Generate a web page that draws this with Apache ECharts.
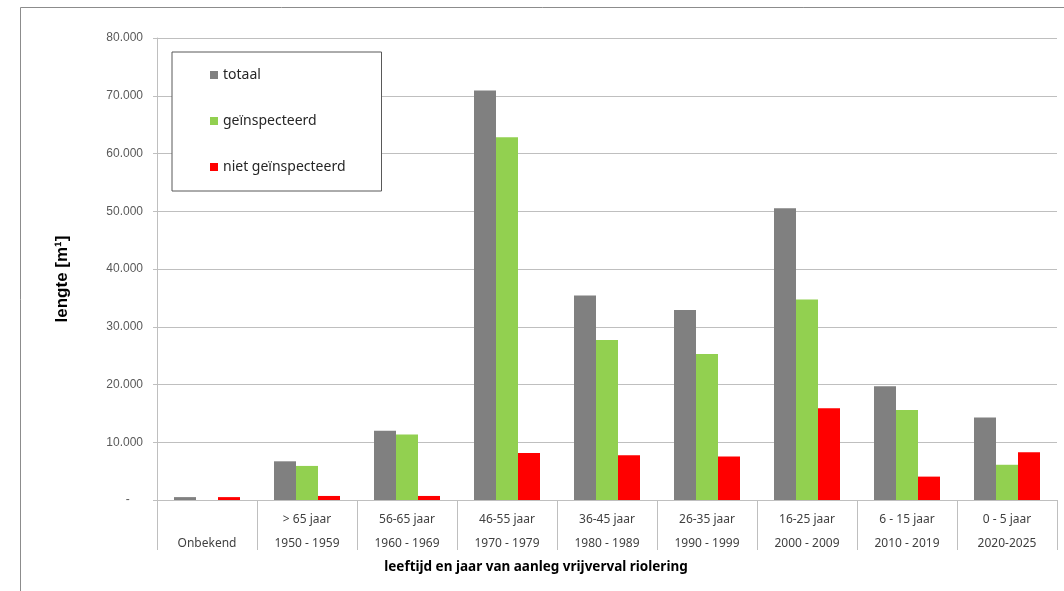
<!DOCTYPE html>
<html>
<head>
<meta charset="utf-8">
<script src="https://cdn.jsdelivr.net/npm/echarts@6/dist/echarts.min.js"></script>
<style>html,body{margin:0;padding:0;background:#fff}#c{width:1064px;height:591px}</style>
</head>
<body>
<div id="c"></div>
<script>
const ageLabels = ['', '> 65 jaar', '56-65 jaar', '46-55 jaar', '36-45 jaar', '26-35 jaar', '16-25 jaar', '6 - 15 jaar', '0 - 5 jaar'];
const yearLabels = ['Onbekend', '1950 - 1959', '1960 - 1969', '1970 - 1979', '1980 - 1989', '1990 - 1999', '2000 - 2009', '2010 - 2019', '2020-2025'];
const totaal = [500, 6700, 12000, 70900, 35400, 32900, 50500, 19700, 14300];
const geinspecteerd = [0, 5900, 11350, 62800, 27700, 25300, 34700, 15600, 6100];
const nietGeinspecteerd = [500, 700, 700, 8150, 7750, 7550, 15900, 4050, 8250];
const seriesNames = ['totaal', 'geïnspecteerd', 'niet geïnspecteerd'];
const yTicks = [0, 10000, 20000, 30000, 40000, 50000, 60000, 70000, 80000];

const categories = yearLabels.map((y, i) => ageLabels[i] + '\n' + y);
const fontUI = '"Noto Sans", sans-serif';

const chart = echarts.init(document.getElementById('c'));
chart.setOption({
  animation: false,
  backgroundColor: '#fff',
  grid: { left: 157, right: 7, top: 38, bottom: 91, containLabel: false },
  legend: {
    orient: 'vertical',
    left: 172, top: 52,
    padding: [16, 36, 17, 38],
    itemWidth: 8, itemHeight: 8, itemGap: 32,
    borderColor: '#595959', borderWidth: 1,
    backgroundColor: '#fff',
    icon: 'rect',
    textStyle: { fontFamily: fontUI, fontSize: 14, color: '#262626' },
    data: seriesNames
  },
  xAxis: {
    type: 'category',
    data: categories,
    axisLine: { lineStyle: { color: '#BFBFBF', width: 1 } },
    axisTick: { show: true, length: 50, alignWithLabel: false, lineStyle: { color: '#BFBFBF', width: 1 } },
    axisLabel: {
      interval: 0, margin: 8, lineHeight: 24,
      fontFamily: fontUI, fontSize: 12, color: '#404040'
    },
    splitLine: { show: false }
  },
  yAxis: {
    type: 'value',
    min: 0, max: 80000, interval: 10000,
    axisLine: { show: true, lineStyle: { color: '#BFBFBF', width: 1 } },
    axisTick: { show: true, length: 4, lineStyle: { color: '#BFBFBF' } },
    axisLabel: {
      margin: 14,
      fontFamily: '"Liberation Sans", Arial, sans-serif', fontSize: 12, color: '#595959',
      formatter: v => v === 0 ? '-    ' : v.toLocaleString('de-DE', { minimumFractionDigits: 0 }).replace(/,/g, '.')
    },
    splitLine: { lineStyle: { color: '#BFBFBF', width: 1 } }
  },
  series: [
    { name: seriesNames[0], type: 'bar', data: totaal, itemStyle: { color: '#808080' }, barGap: '0%', barCategoryGap: '34%' },
    { name: seriesNames[1], type: 'bar', data: geinspecteerd, itemStyle: { color: '#92D050' }, barGap: '0%', barCategoryGap: '34%' },
    { name: seriesNames[2], type: 'bar', data: nietGeinspecteerd, itemStyle: { color: '#FF0000' }, barGap: '0%', barCategoryGap: '34%' }
  ],
  graphic: [
    { type: 'rect', z: -10, silent: true, shape: { x: 20.5, y: 7.5, width: 1100, height: 700 },
      style: { fill: 'none', stroke: '#8C8C8C', lineWidth: 1 } },
    { type: 'text', x: 62, y: 279, rotation: Math.PI / 2, silent: true,
      style: { text: 'lengte [m¹]', fontFamily: '"Liberation Sans", Arial, sans-serif', fontSize: 17, fontWeight: 'bold', fill: '#000',
        align: 'center', verticalAlign: 'middle' } },
    { type: 'text', x: 536, y: 567, silent: true,
      style: { text: 'leeftijd en jaar van aanleg vrijverval riolering', fontFamily: fontUI, fontSize: 13.5, fontWeight: 'bold', fill: '#000',
        align: 'center', verticalAlign: 'middle' } }
  ]
});
</script>
</body>
</html>
